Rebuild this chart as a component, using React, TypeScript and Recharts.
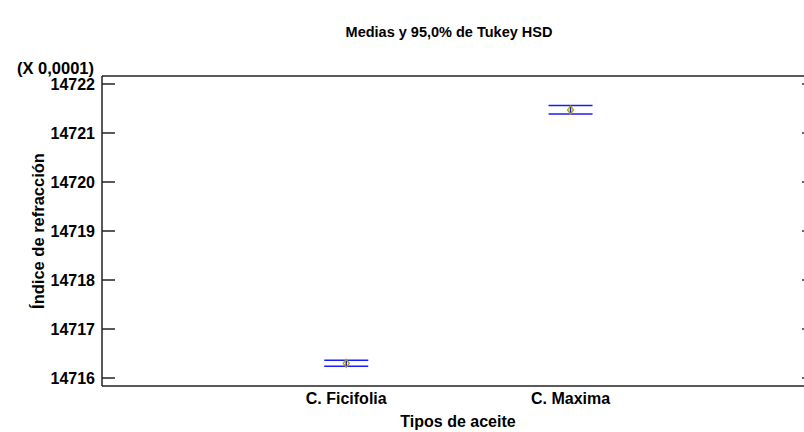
import React from 'react';
import { ScatterChart, Scatter, XAxis, YAxis, ErrorBar, Label } from 'recharts';

const categories = ['C. Ficifolia', 'C. Maxima'];
const positions = [1, 2];
const means = [14716.3, 14721.47];
const lows = [14716.24, 14721.39];
const highs = [14716.36, 14721.56];
const yTicks = [14716, 14717, 14718, 14719, 14720, 14721, 14722];
const yDomain = [14715.837, 14722.163];
const xDomain = [-0.089, 3.09];

const title = 'Medias y 95,0% de Tukey HSD';
const yLabel = 'Índice de refracción';
const xLabel = 'Tipos de aceite';
const scaleNote = '(X 0,0001)';

const data = categories.map((c, i) => ({
  name: c,
  x: positions[i],
  y: means[i],
  err: [means[i] - lows[i], highs[i] - means[i]],
}));

const FONT = '"Liberation Sans", Arial, sans-serif';

const LeftTick = (props: any) => {
  const { x, y, payload } = props;
  return (
    <g>
      <line x1={x} x2={x + 13} y1={y} y2={y} stroke="#222" strokeWidth={1.5} />
      <text x={x - 7} y={y} dy="0.36em" textAnchor="end" fontFamily={FONT} fontWeight="bold" fontSize={16} fill="#000">
        {payload.value}
      </text>
    </g>
  );
};

const Marker = (props: any) => {
  const { cx, cy } = props;
  return (
    <path
      d={`M${cx},${cy - 4} L${cx + 3},${cy} L${cx},${cy + 4} L${cx - 3},${cy} Z`}
      fill="none"
      stroke="#a8a000"
      strokeWidth={1.3}
    />
  );
};

const Empty = () => <g />;

export default function App() {
  return (
    <div style={{ position: 'fixed', left: 8, top: 8, width: 796, height: 424, overflow: 'hidden', background: '#fff' }}>
      <ScatterChart width={807} height={424} margin={{ top: 67, right: 0, bottom: 0, left: 0 }}>
        <XAxis
          xAxisId="b"
          type="number"
          dataKey="x"
          domain={xDomain}
          ticks={positions}
          tickFormatter={(v: number) => categories[positions.indexOf(v)] ?? ''}
          height={46}
          tickLine={false}
          tickSize={0}
          tickMargin={7}
          axisLine={{ stroke: '#222', strokeWidth: 1.5 }}
          tick={{ fontFamily: FONT, fontWeight: 'bold', fontSize: 16, fill: '#000' }}
          allowDataOverflow
        >
          <Label
            content={(p: any) => {
              const vb = p.viewBox;
              return (
                <text x={450} y={vb.y + 41} textAnchor="middle" fontFamily={FONT} fontWeight="bold" fontSize={16} fill="#000">
                  {xLabel}
                </text>
              );
            }}
          />
        </XAxis>
        <XAxis
          xAxisId="t"
          orientation="top"
          type="number"
          dataKey="x"
          domain={xDomain}
          height={1}
          tick={false}
          tickLine={false}
          axisLine={{ stroke: '#222', strokeWidth: 1.5 }}
          allowDataOverflow
        >
          <Label
            content={() => (
              <text x={441} y={29} textAnchor="middle" fontFamily={FONT} fontWeight="bold" fontSize={14.5} fill="#000">
                {title}
              </text>
            )}
          />
        </XAxis>
        <YAxis
          yAxisId="l"
          type="number"
          domain={yDomain}
          ticks={yTicks}
          width={94}
          tickSize={0}
          tickMargin={0}
          tickLine={false}
          axisLine={{ stroke: '#222', strokeWidth: 1.5 }}
          tick={<LeftTick />}
          allowDataOverflow
          interval={0}
        >
          <Label
            content={(p: any) => {
              const vb = p.viewBox;
              const cy = vb.y + vb.height / 2;
              return (
                <text x={30} y={cy} dy="0.36em" transform={`rotate(-90 30 ${cy})`} textAnchor="middle" fontFamily={FONT} fontWeight="bold" fontSize={16.5} fill="#000">
                  {yLabel}
                </text>
              );
            }}
          />
          <Label
            content={() => (
              <text x={86} y={65.5} textAnchor="end" fontFamily={FONT} fontWeight="bold" fontSize={16.5} fill="#000">
                {scaleNote}
              </text>
            )}
          />
        </YAxis>
        <YAxis
          yAxisId="r"
          orientation="right"
          type="number"
          dataKey="y"
          domain={yDomain}
          ticks={yTicks}
          width={1}
          mirror
          tickSize={13}
          axisLine={false}
          tickLine={{ stroke: '#666', strokeWidth: 2 }}
          tick={Empty}
          allowDataOverflow
          interval={0}
        />
        <Scatter data={data} xAxisId="t" yAxisId="r" dataKey="y" shape={Empty} isAnimationActive={false} />
        <Scatter data={data} xAxisId="b" yAxisId="l" dataKey="y" shape={<Marker />} isAnimationActive={false}>
          <ErrorBar dataKey="err" direction="y" width={22} stroke="#1a1aff" strokeWidth={1.5} />
        </Scatter>
      </ScatterChart>
    </div>
  );
}
